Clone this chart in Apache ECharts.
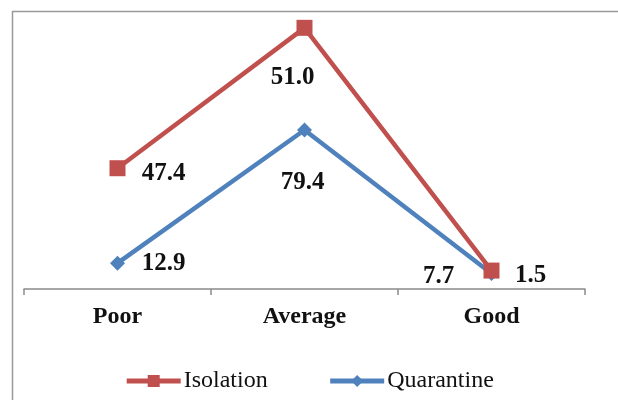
<!DOCTYPE html>
<html><head><meta charset="utf-8">
<script src="https://cdn.jsdelivr.net/npm/echarts@6/dist/echarts.min.js"></script>
<style>html,body{margin:0;padding:0;background:#fff}#c{width:618px;height:400px}</style>
</head><body><div id="c"></div>
<script>
const categories = ['Poor', 'Average', 'Good'];
const isolation = [47.4, 51.0, 1.5];
const quarantine = [12.9, 79.4, 7.7];
const seriesNames = ['Isolation', 'Quarantine'];

const isoOffsets = [[46, 5], [-12, 50], [39, 5]];
const quaOffsets = [[46, 0], [-2, 53], [-53, 3]];
const labelFont = {fontFamily: 'Liberation Serif', fontWeight: 'bold', fontSize: 25, color: '#111'};

function withLabels(vals, offs) {
  return vals.map((v, i) => ({value: v, label: Object.assign({show: true, position: 'inside', offset: offs[i], formatter: p => Number(p.value).toFixed(1)}, labelFont)}));
}

const chart = echarts.init(document.getElementById('c'), null, {renderer: 'canvas'});
chart.setOption({
  animation: false,
  backgroundColor: '#fff',
  graphic: [{type: 'rect', shape: {x: 12.5, y: 11.5, width: 700, height: 500}, style: {fill: 'none', stroke: '#9a9a9a', lineWidth: 1.5}, z: 0}],
  grid: {left: 24, right: 33, top: 8.6, bottom: 108},
  legend: {
    data: seriesNames, bottom: 2, left: 'center', itemWidth: 54, itemHeight: 15, itemGap: 60,
    lineStyle: {width: 5},
    textStyle: {fontFamily: 'Liberation Serif', fontSize: 24, color: '#111', padding: [0, 0, 0, -2]}
  },
  xAxis: {
    type: 'category', data: categories, boundaryGap: true,
    axisLine: {lineStyle: {color: '#8a8a8a', width: 1.5}},
    axisTick: {show: true, length: 6, lineStyle: {color: '#8a8a8a', width: 1.5}},
    axisLabel: {margin: 13, fontFamily: 'Liberation Serif', fontWeight: 'bold', fontSize: 24, color: '#111'}
  },
  yAxis: {type: 'value', min: -1.5, max: 140, show: false, splitLine: {show: false}},
  series: [
    {name: 'Quarantine', type: 'line', stack: 'total', data: withLabels(quarantine, quaOffsets),
     symbol: 'diamond', symbolSize: [15, 15], itemStyle: {color: '#4F81BD'},
     lineStyle: {color: '#4F81BD', width: 4.5}, z: 2},
    {name: 'Isolation', type: 'line', stack: 'total', data: withLabels(isolation, isoOffsets),
     symbol: 'rect', symbolSize: [16, 16], itemStyle: {color: '#C0504D'},
     lineStyle: {color: '#C0504D', width: 4.5}, z: 3}
  ]
});
</script></body></html>
